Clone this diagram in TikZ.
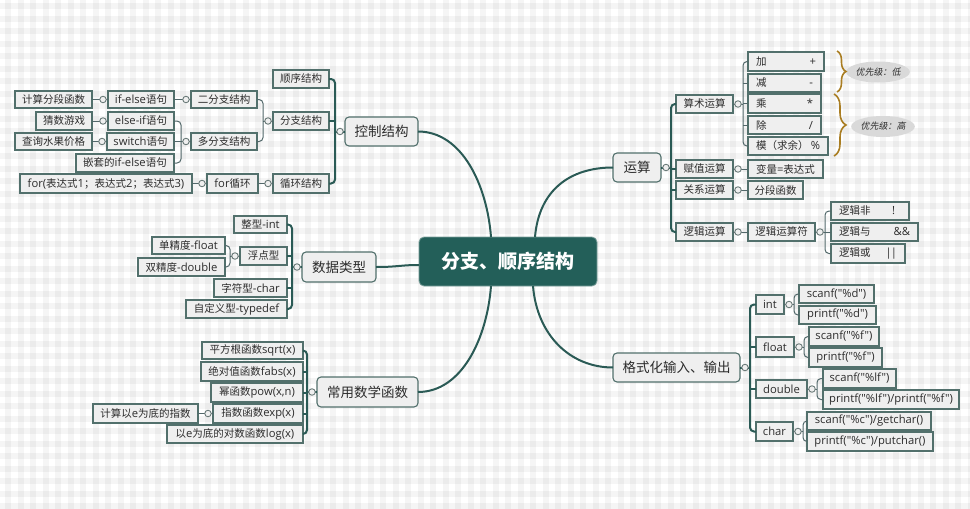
\documentclass[tikz,border=0pt]{standalone}
\usepackage{fontspec}
\setmainfont{Open Sans}[Scale=1.07]
\newfontfamily\latfont{Open Sans}[Scale=1.07]
\newfontfamily\cjkfont{Noto Sans CJK SC}
\newfontfamily\itfont{Noto Sans CJK SC}[FakeSlant=0.2]
% automatic switch between Latin and CJK fonts
\newcount\mycnt
\mycnt="4E00
\loop \XeTeXcharclass\mycnt=1 \advance\mycnt 1 \ifnum\mycnt<"A000 \repeat
\XeTeXcharclass"FF08=1 \XeTeXcharclass"FF09=1 \XeTeXcharclass"FF1B=1
\XeTeXcharclass"FF1A=1 \XeTeXcharclass"3001=1
\XeTeXinterchartokenstate=1
\XeTeXinterchartoks 0 1 = {\cjkfont}
\XeTeXinterchartoks 4095 1 = {\cjkfont}
\XeTeXinterchartoks 1 0 = {\latfont}
\XeTeXinterchartoks 4095 0 = {\latfont}
\newcommand\ellfont{\XeTeXinterchartokenstate=0\relax\itfont\fontsize{9}{10}\selectfont}
\usetikzlibrary{calc,decorations.pathreplacing,shapes.geometric}
\definecolor{cteal}{HTML}{235F59}
\definecolor{cline}{HTML}{2A5A55}
\definecolor{cthin}{HTML}{52686A}
\definecolor{cbord}{HTML}{52706C}
\definecolor{cfill}{HTML}{EFEFEF}
\definecolor{ctext}{HTML}{2C2C2C}
\definecolor{cbrace}{HTML}{A97D22}
\definecolor{cell}{HTML}{D9D9D9}
\definecolor{cdot}{HTML}{6B7B79}
\tikzset{
  sub/.style={draw=cbord, line width=1.4pt, fill=cfill, inner sep=0pt, outer sep=0pt,
    font=\fontsize{10.5}{12}\selectfont, text=ctext},
  topic/.style={sub, rounded corners=4pt, line width=1.1pt, font=\fontsize{13.5}{15}\selectfont},
  root/.style={draw=cteal!60!white, line width=0.8pt, fill=cteal, rounded corners=5pt, inner sep=0pt,
    outer sep=0pt, text=white, font=\fontsize{19}{21}\selectfont\bfseries},
  dot/.style={circle, draw=cdot, fill=cfill, inner sep=0pt, minimum size=6.5pt, line width=0.9pt},
  l1/.style={draw=cline, line width=2pt},
  l2/.style={draw=cthin, line width=1pt},
  curve/.style={draw=cline, line width=2pt},
  ell/.style={ellipse, fill=cell, inner sep=0pt, minimum width=62pt, minimum height=21pt,
    font=\ellfont, text=ctext},
  bracestyle/.style={draw=cbrace, line width=1.6pt, decorate},
}
\newcommand\bx[7][sub]{\node[#1, minimum width={(#5-#3)*1pt}, minimum height={(#6-#4)*1pt}] (#2) at ({(#3+#5)/2},{(#4+#6)/2}) {#7};}
\newcommand\bxs[8][sub]{\node[#1, minimum width={(#5-#3)*1pt}, minimum height={(#6-#4)*1pt}] (#2) at ({(#3+#5)/2},{(#4+#6)/2}) {\hbox to \dimexpr #5pt-#3pt-16pt\relax{#7\hfill #8}};}
% left branches
\newcommand\lbranch[4]{%
  \coordinate (#2-t) at ($(#2.west)+(-10,0)$);
  \draw[#1] (#2.west) -- (#2-t);
  \draw[#1,rounded corners=4pt] (#3.east) -- (#3.east -| #2-t) -- (#4.east -| #2-t) -- (#4.east);
  \node[dot] (#2-o) at ($(#2.west)+(-5,0)$) {};}
\newcommand\lmid[3]{\draw[#1] (#3.east) -- (#3.east -| #2-t);}
\newcommand\lsingle[3]{\draw[#1] (#2.west) -- (#3.east); \node[dot] (#2-o) at ($(#2.west)+(-5,0)$) {};}
% right branches
\newcommand\rbranch[4]{%
  \coordinate (#2-t) at ($(#2.east)+(10,0)$);
  \draw[#1] (#2.east) -- (#2-t);
  \draw[#1,rounded corners=4pt] (#3.west) -- (#3.west -| #2-t) -- (#4.west -| #2-t) -- (#4.west);
  \node[dot] (#2-o) at ($(#2.east)+(5,0)$) {};}
\newcommand\rmid[3]{\draw[#1] (#3.west) -- (#3.west -| #2-t);}
\newcommand\rsingle[3]{\draw[#1] (#2.east) -- (#3.west); \node[dot] (#2-o) at ($(#2.east)+(5,0)$) {};}
\begin{document}
\begin{tikzpicture}[x=1pt,y=-1pt]
\useasboundingbox (0,0) rectangle (970,509);
% gingham background
\fill[white] (0,0) rectangle (970,509);
\foreach \i in {0,...,77} \fill[black,opacity=0.04] ({5+12.5*\i},0) rectangle ++(6,509);
\foreach \j in {0,...,40} \fill[black,opacity=0.04] (0,{3+12.5*\j}) rectangle ++(970,6);

% ---------- nodes ----------
\bx[root]{root}{419}{237}{597}{286}{分支、顺序结构}

\bx[topic]{kz}{345}{117}{418}{146}{控制结构}
\bx{sx}{273}{70}{329}{88}{顺序结构}
\bx{fz}{273}{112}{329}{130}{分支结构}
\bx{xh}{273}{174}{329}{193}{循环结构}
\bx{efz}{191}{91}{257}{108}{二分支结构}
\bx{dfz}{191}{133}{257}{150}{多分支结构}
\bx{ife}{108}{91}{174}{108}{if-else语句}
\bx{eif}{108}{112}{174}{130}{else-if语句}
\bx{sw}{107}{133}{174}{150}{switch语句}
\bx{qt}{76}{154}{174}{172}{嵌套的if-else语句}
\bx{jsfd}{15}{91}{92}{108}{计算分段函数}
\bx{cs}{36}{112}{92}{130}{猜数游戏}
\bx{cx}{15}{133}{92}{150}{查询水果价格}
\bx{forl}{207}{174}{258}{193}{for循环}
\bx{fexp}{20}{174}{192}{193}{for(表达式1；表达式2；表达式3)}

\bx[topic]{sj}{302}{252}{376}{282}{数据类型}
\bx{zx}{234}{216}{287}{233}{整型-int}
\bx{fd}{240}{247}{287}{265}{浮点型}
\bx{zf}{214}{279}{287}{297}{字符型-char}
\bx{zdy}{186}{300}{287}{318}{自定义型-typedef}
\bx{dj}{152}{237}{225}{254}{单精度-float}
\bx{sjd}{138}{258}{225}{276}{双精度-double}

\bx[topic]{cy}{317}{377}{418}{407}{常用数学函数}
\bx{pf}{202}{342}{303}{359}{平方根函数sqrt(x)}
\bx{jd}{201}{362}{303}{381}{绝对值函数fabs(x)}
\bx{mi}{211}{383}{303}{402}{幂函数pow(x,n)}
\bx{zs}{213}{404}{303}{423}{指数函数exp(x)}
\bx{ln}{167}{425}{303}{443}{以e为底的对数函数log(x)}
\bx{jse}{93}{404}{198}{423}{计算以e为底的指数}

\bx[topic]{ys}{613}{153}{661}{182}{运算}
\bx{ss}{676}{95}{733}{113}{算术运算}
\bx{fz2}{676}{160}{733}{178}{赋值运算}
\bx{gx}{676}{181}{733}{199}{关系运算}
\bx{lj}{676}{223}{733}{241}{逻辑运算}
\bxs{jia}{748}{52}{824}{71}{加}{+}
\bxs{jian}{748}{74}{821}{92}{减}{-}
\bxs{cheng}{748}{94}{821}{113}{乘}{*}
\bxs{chu}{748}{116}{821}{134}{除}{/}
\bxs{mo}{748}{137}{828}{155}{模（求余）}{\%}
\bx{bl}{748}{160}{823}{178}{变量=表达式}
\bx{fdhs}{748}{181}{803}{199}{分段函数}
\bx{ljf}{748}{223}{815}{241}{逻辑运算符}
\bxs{ljfei}{831}{202}{909}{220}{逻辑非}{!\hspace{6pt}}
\bxs{ljyu}{831}{223}{918}{241}{逻辑与}{\&\&}
\bxs{ljhuo}{831}{244}{905}{263}{逻辑或}{|\kern-1pt|}

\bx[topic]{gs}{613}{353}{740}{382}{格式化输入、输出}
\bx{int}{756}{295}{784}{314}{int}
\bx{float}{756}{337}{794}{357}{float}
\bx{double}{756}{380}{807}{398}{double}
\bx{char}{756}{422}{793}{441}{char}
\bx{sd}{799}{285}{874}{303}{scanf("\%d")}
\bx{pd}{799}{306}{876}{324}{printf("\%d")}
\bx{sf}{809}{327}{879}{346}{scanf("\%f")}
\bx{pf2}{809}{348}{882}{367}{printf("\%f")}
\bx{slf}{823}{369}{896}{388}{scanf("\%lf")}
\bx{plf}{823}{390}{959}{409}{printf("\%lf")/printf("\%f")}
\bx{sc}{807}{412}{931}{430}{scanf("\%c")/getchar()}
\bx{pc}{807}{432}{933}{451}{printf("\%c")/putchar()}

\node[ell] (low) at (878,72) {优先级：低};
\node[ell] (high) at (883,126.5) {优先级：高};

% ---------- main curves ----------
\coordinate (r1) at ($(root.north west)+(72,0)$);
\coordinate (r2) at ($(root.north west)+(116,0)$);
\coordinate (r3) at ($(root.south west)+(72,0)$);
\coordinate (r4) at ($(root.south west)+(114,0)$);
\coordinate (r5) at ($(root.west)+(0,3.5)$);
\draw[curve] (kz.east) .. controls (462,131.5) and (487,185) .. (r1);
\draw[curve] (r2) .. controls (539,190) and (570,167.5) .. (ys.west);
\draw[curve] (cy.east) .. controls (462,392) and (487,338) .. (r3);
\draw[curve] (r4) .. controls (537,335) and (570,367.5) .. (gs.west);
\draw[curve] (sj.east) .. controls (398,267) and (400,265) .. (r5);

% ---------- left connectors ----------
\lbranch{l1}{kz}{sx}{xh}
\lmid{l1}{kz}{fz}
\lbranch{l2}{fz}{efz}{dfz}
\lsingle{l2}{efz}{ife}
\lsingle{l2}{ife}{jsfd}
\lbranch{l2}{dfz}{eif}{qt}
\lmid{l2}{dfz}{sw}
\lsingle{l2}{eif}{cs}
\lsingle{l2}{sw}{cx}
\lsingle{l2}{xh}{forl}
\lsingle{l2}{forl}{fexp}

\lbranch{l1}{sj}{zx}{zdy}
\lmid{l1}{sj}{fd}
\lmid{l1}{sj}{zf}
\lbranch{l2}{fd}{dj}{sjd}

\lbranch{l1}{cy}{pf}{ln}
\lmid{l1}{cy}{jd}
\lmid{l1}{cy}{mi}
\lmid{l1}{cy}{zs}
\lsingle{l2}{zs}{jse}

% ---------- right connectors ----------
\rbranch{l1}{ys}{ss}{lj}
\rmid{l1}{ys}{fz2}
\rmid{l1}{ys}{gx}
\rbranch{l2}{ss}{jia}{mo}
\rmid{l2}{ss}{jian}
\rmid{l2}{ss}{cheng}
\rmid{l2}{ss}{chu}
\rsingle{l2}{fz2}{bl}
\rsingle{l2}{gx}{fdhs}
\rsingle{l2}{lj}{ljf}
\rbranch{l2}{ljf}{ljfei}{ljhuo}
\rmid{l2}{ljf}{ljyu}

\rbranch{l1}{gs}{int}{char}
\rmid{l1}{gs}{float}
\rmid{l1}{gs}{double}
\rbranch{l2}{int}{sd}{pd}
\rbranch{l2}{float}{sf}{pf2}
\rbranch{l2}{double}{slf}{plf}
\rbranch{l2}{char}{sc}{pc}

% ---------- braces ----------
\coordinate (b1s) at (837,51);
\coordinate (b1e) at (837,92);
\coordinate (b2s) at (834,94);
\coordinate (b2e) at (834,156);
\draw[bracestyle, decoration={brace, amplitude=9pt}] (b1s) -- (b1e);
\draw[bracestyle, decoration={brace, amplitude=12pt}] (b2s) -- (b2e);
\end{tikzpicture}
\end{document}
